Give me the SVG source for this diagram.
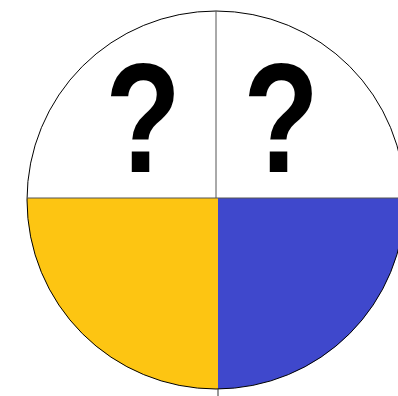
<svg xmlns="http://www.w3.org/2000/svg" width="398" height="396" viewBox="0 0 398 396">
<style>
.q{font-family:"Liberation Sans",Arial,sans-serif;font-weight:bold;font-size:155px;fill:#000;text-anchor:middle}
</style>
<defs><clipPath id="c"><circle cx="216" cy="200" r="189"/></clipPath></defs>
<rect width="398" height="396" fill="#fff"/>
<g id="quarters" clip-path="url(#c)">
<rect id="yellow" x="20" y="198" width="198" height="200" fill="#FDC512"/>
<rect id="blue" x="218" y="198" width="190" height="200" fill="#3F48CC"/>
</g>
<g id="outline" fill="none" stroke="#000">
<circle cx="216" cy="200" r="189" stroke-width="1"/>
<line x1="216" y1="11" x2="216" y2="198" stroke="#555" stroke-width="1"/>
<line x1="27" y1="198" x2="398" y2="198" stroke="#555" stroke-width="1"/>
<line x1="218" y1="389" x2="218" y2="396" stroke="#333" stroke-width="1"/>
</g>
<text id="q1" class="q" transform="translate(143,172) scale(0.8,1)">?</text>
<text id="q2" class="q" transform="translate(281,172) scale(0.8,1)">?</text>
</svg>
